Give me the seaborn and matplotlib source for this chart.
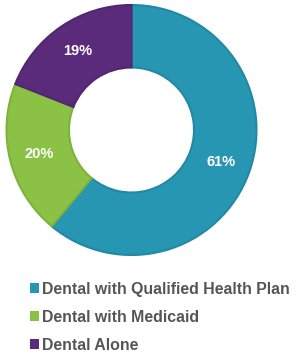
import matplotlib
matplotlib.use("Agg")
import matplotlib.pyplot as plt
from matplotlib.patches import Patch
import seaborn as sns

# ---- Data ----
categories = ["Dental with Qualified Health Plan", "Dental with Medicaid", "Dental Alone"]
shares = [61, 20, 19]
colors = ["#2796B3", "#8BC145", "#5B2B7B"]
edges = ["#2189A3", "#7FB23C", "#522670"]

sns.set_theme(style="white")
plt.rcParams["font.family"] = ["Liberation Sans", "DejaVu Sans"]

fig = plt.figure(figsize=(2.96, 3.57), dpi=100)
ax = fig.add_axes([6.5 / 296, 1 - 255 / 357, 250 / 296, 250 / 357])

wedges, texts, autotexts = ax.pie(
    shares,
    colors=colors,
    startangle=90,
    counterclock=False,
    radius=1.0,
    wedgeprops=dict(width=0.5, linewidth=1.5),
    autopct=lambda p: f"{p:.0f}%",
    pctdistance=0.76,
    textprops=dict(color="white", fontsize=10.5, fontweight="bold"),
)
for w, ec in zip(wedges, edges):
    w.set_edgecolor(ec)

ax.set_xlim(-1, 1)
ax.set_ylim(-1, 1)
ax.set_aspect("equal")
ax.axis("off")

handles = [Patch(facecolor=c, edgecolor="none") for c in colors]
fig.legend(
    handles, categories,
    loc="upper left",
    bbox_to_anchor=(30 / 296, 1 - 282 / 357),
    frameon=False,
    prop=dict(size=11.4, weight="bold"),
    labelcolor="#555555",
    handlelength=0.58,
    handleheight=0.58,
    handletextpad=0.15,
    labelspacing=0.82,
    borderaxespad=0,
    borderpad=0,
)

fig.savefig("out.png", dpi=100)
